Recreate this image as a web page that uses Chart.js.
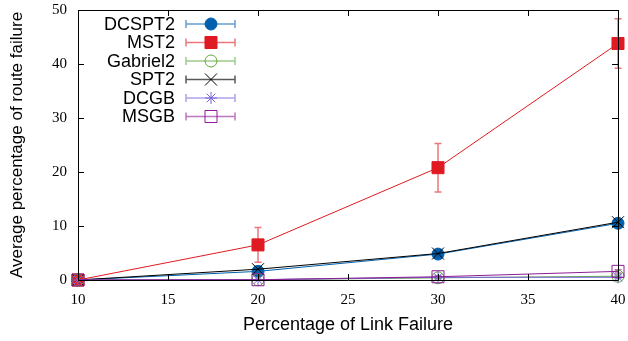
<!DOCTYPE html>
<html>
<head>
<meta charset="utf-8">
<script src="https://cdn.jsdelivr.net/npm/chart.js@4.4.1/dist/chart.umd.min.js"></script>
<style>
html,body{margin:0;padding:0;background:#fff;}
canvas{display:block;}
</style>
</head>
<body>
<canvas id="c" width="628" height="341"></canvas>
<script>
// ---- data ----
const xValues = [10, 20, 30, 40];
const xTicks = [10, 15, 20, 25, 30, 35, 40];
const yTicks = [0, 10, 20, 30, 40, 50];
const seriesNames = ["DCSPT2", "MST2", "Gabriel2", "SPT2", "DCGB", "MSGB"];
const dcspt2 = [0, 1.6, 4.8, 10.5];
const dcspt2Err = [0, 0.3, 0.4, 0.5];
const mst2 = [0, 6.5, 20.8, 43.8];
const mst2Err = [0.2, 3.2, 4.5, 4.6];
const gabriel2 = [0, 0.05, 0.4, 0.7];
const gabriel2Err = [0, 0.05, 0.2, 0.3];
const spt2 = [0, 2.0, 4.9, 10.7];
const spt2Err = [0, 0.3, 0.4, 0.5];
const dcgb = [0, 0.05, 0.5, 0.5];
const dcgbErr = [0, 0.05, 0.2, 0.2];
const msgb = [0, 0.05, 0.6, 1.6];
const msgbErr = [0, 0.05, 0.2, 0.3];

const values = [dcspt2, mst2, gabriel2, spt2, dcgb, msgb];
const errors = [dcspt2Err, mst2Err, gabriel2Err, spt2Err, dcgbErr, msgbErr];

// ---- styles ----
const colors = ['#0060ad', '#e01a22', '#5ea83c', '#000000', '#7866e0', '#8e1c94'];
const errColors = ['rgba(0,96,173,0.6)', 'rgba(224,26,34,0.6)', 'rgba(94,168,60,0.6)', 'rgba(0,0,0,0.65)', 'rgba(120,102,224,0.6)', 'rgba(142,28,148,0.6)'];
const styles = ['circle', 'rect', 'circle', 'crossRot', 'star', 'rect'];
const radii = [6, 8.5, 6, 8.5, 6, 8.5];
const filled = [true, true, false, false, false, false];

const datasets = seriesNames.map((name, i) => ({
  label: name,
  data: xValues.map((x, j) => ({x: x, y: values[i][j]})),
  borderColor: colors[i],
  backgroundColor: colors[i],
  borderWidth: 1,
  pointStyle: styles[i],
  pointRadius: radii[i],
  pointHoverRadius: radii[i],
  pointBorderWidth: 1,
  pointBorderColor: colors[i],
  pointBackgroundColor: filled[i] ? colors[i] : 'rgba(0,0,0,0)',
  tension: 0,
  fill: false,
  clip: false,
  order: seriesNames.length - i
}));

function drawMarker(ctx, style, r, x, y, color, fill) {
  ctx.save();
  ctx.strokeStyle = color;
  ctx.fillStyle = color;
  ctx.lineWidth = 1;
  ctx.beginPath();
  if (style === 'circle') {
    ctx.arc(x, y, r, 0, Math.PI * 2);
    if (fill) ctx.fill();
    ctx.stroke();
  } else if (style === 'rect') {
    const s = r * Math.SQRT1_2;
    ctx.rect(x - s, y - s, 2 * s, 2 * s);
    if (fill) ctx.fill();
    ctx.stroke();
  } else if (style === 'crossRot') {
    const s = r * Math.SQRT1_2;
    ctx.moveTo(x - s, y - s); ctx.lineTo(x + s, y + s);
    ctx.moveTo(x - s, y + s); ctx.lineTo(x + s, y - s);
    ctx.stroke();
  } else if (style === 'star') {
    const s = r * Math.SQRT1_2;
    ctx.moveTo(x - s, y - s); ctx.lineTo(x + s, y + s);
    ctx.moveTo(x - s, y + s); ctx.lineTo(x + s, y - s);
    ctx.moveTo(x, y - r); ctx.lineTo(x, y + r);
    ctx.moveTo(x - r, y); ctx.lineTo(x + r, y);
    ctx.stroke();
  }
  ctx.restore();
}

const errorBarPlugin = {
  id: 'errorBars',
  beforeDatasetsDraw(chart) {
    const ctx = chart.ctx;
    const xs = chart.scales.x, ys = chart.scales.y;
    const cap = 3.5;
    for (let i = 0; i < values.length; i++) {
      ctx.save();
      ctx.strokeStyle = errColors[i];
      ctx.lineWidth = 1.5;
      for (let j = 0; j < xValues.length; j++) {
        const e = errors[i][j];
        if (!e) continue;
        const px = xs.getPixelForValue(xValues[j]);
        const lo = Math.max(0, values[i][j] - e);
        const pTop = ys.getPixelForValue(values[i][j] + e);
        const pBot = ys.getPixelForValue(lo);
        ctx.beginPath();
        ctx.moveTo(px, pTop); ctx.lineTo(px, pBot);
        ctx.moveTo(px - cap, pTop); ctx.lineTo(px + cap, pTop);
        ctx.moveTo(px - cap, pBot); ctx.lineTo(px + cap, pBot);
        ctx.stroke();
      }
      ctx.restore();
    }
  }
};

const framePlugin = {
  id: 'frame',
  afterDatasetsDraw(chart) {
    const ctx = chart.ctx;
    const a = chart.chartArea;
    const xs = chart.scales.x, ys = chart.scales.y;
    const tl = 6;
    ctx.save();
    ctx.strokeStyle = '#000';
    ctx.lineWidth = 1;
    ctx.beginPath();
    ctx.rect(Math.round(a.left) + 0.5, Math.round(a.top) + 0.5, Math.round(a.right - a.left), Math.round(a.bottom - a.top));
    xTicks.forEach(v => {
      const px = Math.round(xs.getPixelForValue(v)) + 0.5;
      ctx.moveTo(px, a.bottom); ctx.lineTo(px, a.bottom - tl);
      ctx.moveTo(px, a.top); ctx.lineTo(px, a.top + tl);
    });
    yTicks.forEach(v => {
      const py = Math.round(ys.getPixelForValue(v)) + 0.5;
      ctx.moveTo(a.left, py); ctx.lineTo(a.left + tl, py);
      ctx.moveTo(a.right, py); ctx.lineTo(a.right - tl, py);
    });
    ctx.stroke();
    ctx.restore();
  }
};

const legendPlugin = {
  id: 'customLegend',
  afterDraw(chart) {
    const ctx = chart.ctx;
    const textRight = 175, x0 = 186, x1 = 235, xm = 211;
    const top = 24, step = 18.5;
    ctx.save();
    ctx.font = '18px "Liberation Sans", Arial, sans-serif';
    ctx.textAlign = 'right';
    ctx.textBaseline = 'middle';
    seriesNames.forEach((name, i) => {
      const y = top + i * step;
      ctx.fillStyle = '#000';
      ctx.fillText(name, textRight, y + 1);
      ctx.strokeStyle = errColors[i];
      ctx.lineWidth = 1.5;
      ctx.beginPath();
      ctx.moveTo(x0, y); ctx.lineTo(x1, y);
      ctx.moveTo(x0, y - 4); ctx.lineTo(x0, y + 4);
      ctx.moveTo(x1, y - 4); ctx.lineTo(x1, y + 4);
      ctx.stroke();
      drawMarker(ctx, styles[i], radii[i], xm, y, colors[i], filled[i]);
    });
    ctx.restore();
  }
};

new Chart(document.getElementById('c'), {
  type: 'line',
  data: { datasets: datasets },
  plugins: [errorBarPlugin, framePlugin, legendPlugin],
  options: {
    responsive: false,
    devicePixelRatio: 1,
    animation: false,
    events: [],
    layout: { padding: { top: 10, right: 10, left: 0, bottom: 0 } },
    plugins: { legend: { display: false }, tooltip: { enabled: false } },
    scales: {
      x: {
        type: 'linear',
        min: 10, max: 40,
        afterBuildTicks(scale) { scale.ticks = xTicks.map(v => ({value: v})); },
        afterFit(scale) { scale.height = 61; scale.paddingLeft = 0; scale.paddingRight = 0; },
        grid: { display: false, drawTicks: false },
        border: { display: false },
        ticks: {
          font: { family: '"Liberation Serif", "Times New Roman", serif', size: 15 },
          color: '#000',
          padding: 11,
          maxRotation: 0
        },
        title: {
          display: true,
          text: 'Percentage of Link Failure',
          font: { family: '"Liberation Sans", Arial, sans-serif', size: 18 },
          color: '#000',
          padding: { top: 0, bottom: 5 }
        }
      },
      y: {
        type: 'linear',
        min: 0, max: 50,
        afterBuildTicks(scale) { scale.ticks = yTicks.map(v => ({value: v})); },
        afterFit(scale) { scale.width = 78; scale.paddingTop = 0; scale.paddingBottom = 0; },
        grid: { display: false, drawTicks: false },
        border: { display: false },
        ticks: {
          font: { family: '"Liberation Serif", "Times New Roman", serif', size: 15 },
          color: '#000',
          padding: 11
        },
        title: {
          display: true,
          text: 'Average percentage of route failure',
          font: { family: '"Liberation Sans", Arial, sans-serif', size: 17 },
          color: '#000',
          padding: { top: 7, bottom: 0 }
        }
      }
    }
  }
});
</script>
</body>
</html>
